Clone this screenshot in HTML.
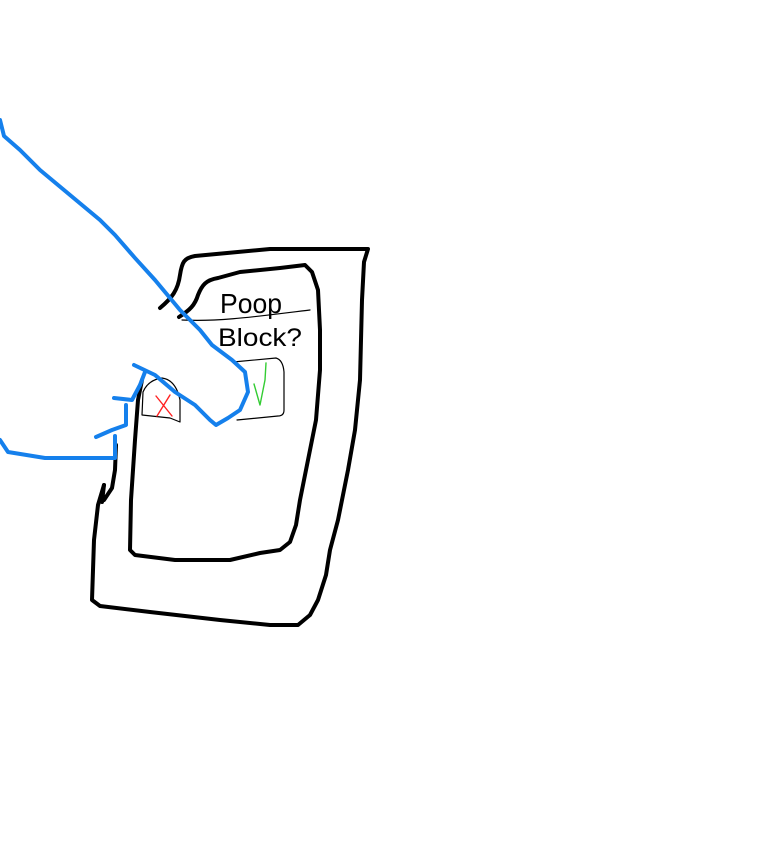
<!DOCTYPE html>
<html><head><style>html,body{margin:0;padding:0;background:#fff;width:768px;height:866px;overflow:hidden}</style></head>
<body>
<svg width="768" height="866" viewBox="0 0 768 866" xmlns="http://www.w3.org/2000/svg" fill="none" stroke-linecap="round" stroke-linejoin="round">
<path d="M160 308 C172 298 178 290 180 275 C182 262 184 258 195 256 L270 249 L368 249 L364 262 L362 300 L360 380 L355 430 L348 470 L338 520 L330 550 L326 575 L318 600 L310 615 L298 625 L270 625 L220 620 L150 612 L100 606 L92 600 L94 540 L98 505 L104 485" stroke="#000" stroke-width="4"/>
<path d="M102 502 L104 485 M116 445 L115 470 L112 488 L104 500" stroke="#000" stroke-width="4"/>
<path d="M179 317 C190 310 195 305 198 295 C202 285 206 280 218 278 L240 272 L280 268 L305 265 L312 272 L318 290 L320 330 L320 370 L316 420 L308 460 L300 500 L296 525 L290 542 L280 550 L260 553 L230 560 L175 560 L135 555 L130 550 L131 500 L135 440 L138 400 L142 380" stroke="#000" stroke-width="4"/>
<text x="220" y="313" font-family="Liberation Sans, sans-serif" font-size="28" fill="#000" textLength="62" lengthAdjust="spacingAndGlyphs">Poop</text>
<path d="M182 320 C220 322 260 316 310 310" stroke="#000" stroke-width="1.2"/>
<text x="218" y="346" font-family="Liberation Sans, sans-serif" font-size="25" fill="#000" textLength="84" lengthAdjust="spacingAndGlyphs">Block?</text>
<path d="M233 362 L276 358 Q283 360 284 372 L284 410 Q284 416 278 416 L237 420" stroke="#000" stroke-width="1.2"/>
<path d="M143 392 Q148 380 162 378 Q176 380 180 400 L180 422 L170 418 L142 415 Z" stroke="#000" stroke-width="1.2"/>
<path d="M156 396 L172 416 M170 395 L157 416" stroke="#f22" stroke-width="1.4"/>
<path d="M254 384 L260 405 L265 380 L266 363" stroke="#3c3" stroke-width="1.4"/>
<path d="M0 120 L4 136 L20 150 L40 170 L70 195 L100 220 L115 235 L135 258 L155 280 L180 310 L200 330 L212 345 L232 360 L245 372 L248 392 L240 410 L228 418 L216 425 L210 420 L195 405 L175 392 L155 375 L134 365 M145 372 L140 385 L132 400 L114 398 M126 405 L126 425 L112 430 L96 437 M115 436 L115 458 L80 458 L45 458 L8 452 L0 440" stroke="#1580ec" stroke-width="4"/>
</svg>
</body></html>
